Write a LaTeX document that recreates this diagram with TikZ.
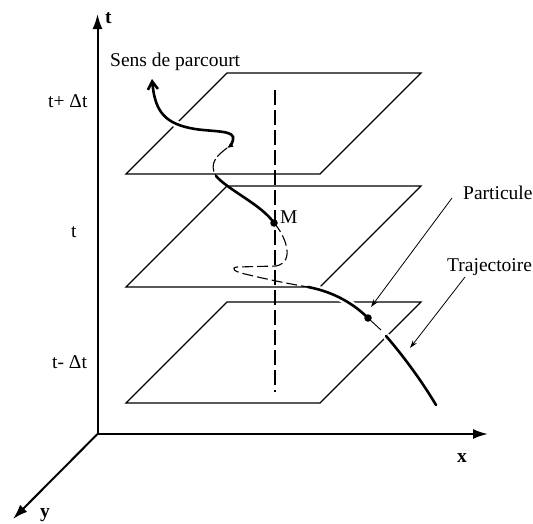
\documentclass[tikz,border=0pt]{standalone}
\usepackage{fontspec}
\setmainfont{Liberation Serif}
\usetikzlibrary{arrows.meta}
\begin{document}
\begin{tikzpicture}[x=1pt,y=-1pt,
  plane/.style={line width=1.3pt, line join=miter},
  axis/.style={line width=2pt,-{Latex[length=15pt,width=10pt]}},
  traj/.style={line width=2.6pt, line cap=round},
  halo/.style={preaction={draw=white,line width=7pt,line cap=butt}},
  hidden/.style={line width=1.1pt, dash pattern=on 11pt off 4pt},
  lbl/.style={font=\fontsize{19.5}{22}\selectfont, inner sep=0pt},
  axlbl/.style={font=\fontsize{19.5}{22}\selectfont\bfseries, inner sep=0pt},
  pointer/.style={line width=0.8pt,-{Stealth[length=8pt,width=5pt]}},
  dotm/.style={circle,fill,inner sep=0pt,minimum size=7.5pt}]
\useasboundingbox (0,0) rectangle (533,523);
% axes
\coordinate (O) at (97.5,434);
\coordinate (T) at (97.5,14);
\coordinate (X) at (488,434);
\coordinate (Y) at (13,519);
\draw[axis] (O) -- (T);
\draw[axis] (O) -- (X);
\draw[axis] (O) -- (Y);
\node[axlbl, anchor=base west] (tl) at (105,23) {t};
\node[axlbl, anchor=base west] (xl) at (457,462) {x};
\node[axlbl, anchor=base west] (yl) at (40,517) {y};
% planes
\draw[plane] (126,174) -- (320,174) -- (421,73) -- (227,73) -- cycle;
\draw[plane] (126,287) -- (320,287) -- (421,186) -- (227,186) -- cycle;
\draw[plane] (126,403) -- (320,403) -- (421,302) -- (227,302) -- cycle;
% vertical dashed line
\coordinate (v1) at (275,90);
\coordinate (v2) at (275,392);
\draw[line width=1.5pt, dash pattern=on 15pt off 5pt] (v1) -- (v2);
% trajectory
\draw[traj, halo, {Straight Barb[length=8pt,width=10pt]}-{Latex[length=6pt,width=5.5pt]}]
  (152,79) .. controls (155,112) and (165,124) .. (195,129)
  .. controls (215,132) and (236,130) .. (233,140)
  .. controls (232,144) and (230,146) .. (227,148);
\draw[line width=1.1pt, dash pattern=on 13pt off 3pt]
  (227,148) .. controls (218,155) and (208,163) .. (216,176);
\draw[traj] (216,176) .. controls (228,190) and (262,205) .. (274,223);
\draw[hidden] (274,223) .. controls (285,235) and (296,262) .. (276,266)
  -- (237,267) .. controls (230,268) and (235,272) .. (245,274)
  .. controls (270,280) and (290,284) .. (308,287);
\draw[traj, halo] (308,287) .. controls (335,292) and (355,305) .. (368,318);
\draw[line width=0.9pt] (368,318) -- (381,330);
\draw[traj, halo] (386,336) .. controls (400,352) and (420,378) .. (436,405);
\node[dotm] (M) at (274,223) {};
\node[dotm] (P) at (368,318) {};
\node[lbl, anchor=base west] (Ml) at (280,223) {M};
% labels
\node[lbl, anchor=base west] (sens) at (110,66) {Sens de parcourt};
\node[lbl, anchor=base west] (part) at (463,199) {Particule};
\node[lbl, anchor=base west] (trajl) at (447,271) {Trajectoire};
\coordinate (pa) at (452,198);
\coordinate (pb) at (371,307);
\draw[pointer] (pa) -- (pb);
\coordinate (ta) at (465,277);
\coordinate (tb) at (410,348);
\draw[pointer] (ta) -- (tb);
\node[lbl, anchor=base west] (tp) at (48,107) {t+ Δt};
\node[lbl, anchor=base west] (t0) at (71,237) {t};
\node[lbl, anchor=base west] (tm) at (52,368) {t- Δt};
\end{tikzpicture}
\end{document}
